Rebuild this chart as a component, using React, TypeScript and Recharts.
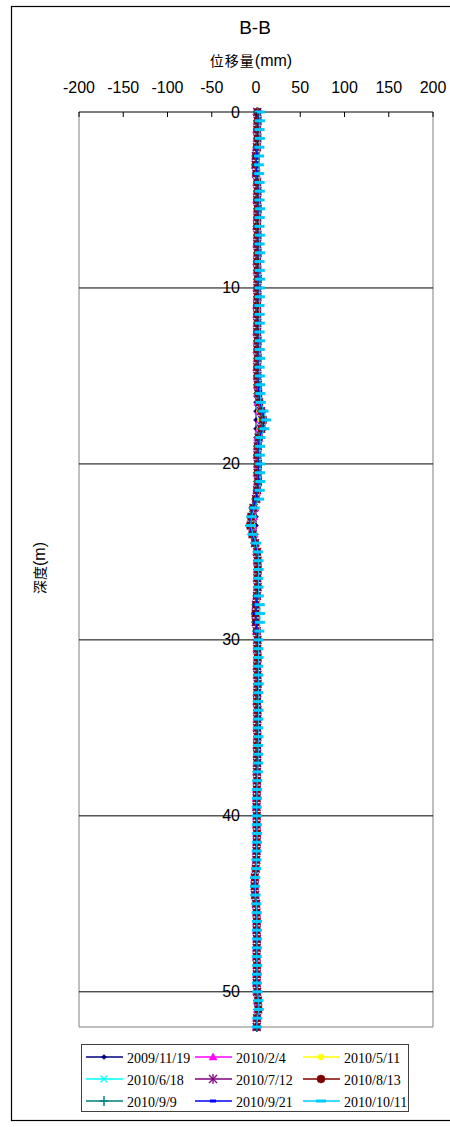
import React from 'react';
import { ScatterChart, Scatter, XAxis, YAxis, ReferenceLine, ReferenceDot } from 'recharts';

// ---------- data ----------
const depths = [
  0, 0.5, 1, 1.5, 2, 2.5, 3, 3.5, 4, 4.5, 5, 5.5, 6, 6.5, 7, 7.5, 8, 8.5, 9, 9.5,
  10, 10.5, 11, 11.5, 12, 12.5, 13, 13.5, 14, 14.5, 15, 15.5, 16, 16.5, 17, 17.5, 18, 18.5, 19, 19.5,
  20, 20.5, 21, 21.5, 22, 22.5, 23, 23.5, 24, 24.5, 25, 25.5, 26, 26.5, 27, 27.5, 28, 28.5, 29, 29.5,
  30, 30.5, 31, 31.5, 32, 32.5, 33, 33.5, 34, 34.5, 35, 35.5, 36, 36.5, 37, 37.5, 38, 38.5, 39, 39.5,
  40, 40.5, 41, 41.5, 42, 42.5, 43, 43.5, 44, 44.5, 45, 45.5, 46, 46.5, 47, 47.5, 48, 48.5, 49, 49.5,
  50, 50.5, 51, 51.5, 52,
];

const xTicks = [-200, -150, -100, -50, 0, 50, 100, 150, 200];
const depthTicks = [0, 10, 20, 30, 40, 50];
const gridDepths = [10, 20, 30, 40, 50];

const seriesNames = [
  '2009/11/19', '2010/2/4', '2010/5/11',
  '2010/6/18', '2010/7/12', '2010/8/13',
  '2010/9/9', '2010/9/21', '2010/10/11',
];
const seriesColors = [
  '#000080', '#FF00FF', '#FFFF00',
  '#00FFFF', '#800080', '#800000',
  '#008080', '#0000FF', '#00CCFF',
];
const seriesMarkers = [
  'diamond', 'triangle', 'dot',
  'cross', 'star', 'circle',
  'plus', 'dashShort', 'dashLong',
];

const s1 = [
  0, 0, 0, 0, 0, 0, 0, 0, 0, 0, 0, 0, 0, 0, 0,
  0, 0, 0, 0, 0, 0, 0, 0, 0, 0, 0, 0, 0, 0, 0,
  0, 0, 0, 0, 0, 0, 0, 0, 0, 0, 0, 0, 0, 0, 0,
  0, 0, 0, 0, 0, 0, 0, 0, 0, 0, 0, 0, 0, 0, 0,
  0, 0, 0, 0, 0, 0, 0, 0, 0, 0, 0, 0, 0, 0, 0,
  0, 0, 0, 0, 0, 0, 0, 0, 0, 0, 0, 0, 0, 0, 0,
  0, 0, 0, 0, 0, 0, 0, 0, 0, 0, 0, 0, 0, 0, 0,
];
const s2 = [
  0.8, 1.0, 0.6, 0.9, 0.3, -0.5, -0.8, -0.2, 0.7, 0.9, 0.6, 1.1, 0.8, 0.5, 1.0, 0.7, 1.1, 0.6, 0.9, 1.2, 0.8, 1.0, 0.5, 0.7,
  0.9, 0.6, 1.0, 0.8, 1.1, 0.7, 0.9, 1.2, 1.4,
  2.0, 3.2, 4.2, 3.4, 1.8,
  1.2, 0.9, 1.3, 1.0, 1.4, 0.8, 0.3,
  -1.2, -2.6, -3.2, -2.0, -0.4,
  0.6, 1.0, 1.2, 0.9, 1.1, 0.6, -0.2, -0.6, -0.3, 0.4, 1.0, 0.8, 1.1, 0.7, 0.9, 1.2, 0.8, 0.6, 1.0, 0.9, 0.7, 1.0, 0.6, 0.8, 0.7, 0.5,
  0.6, 0.4, 0.3, 0.2, 0.5, 0.3, 0.6, 0.4, 0.2, 0.1, -0.2, -0.9, -1.1, -0.6, 0.0, 0.3, 0.5, 0.4, 0.6, 0.5, 0.3, 0.6, 0.5, 0.4, 0.7, 1.2, 1.4, 0.6, 0.4,
];
const s3 = [
  1.0, 1.3, 0.8, 1.1, 0.5, -0.3, -0.6, 0.0, 0.9, 1.2, 0.8, 1.4, 1.0, 0.7, 1.2, 0.9, 1.3, 0.8, 1.1, 1.5, 1.0, 1.2, 0.7, 0.9,
  1.1, 0.8, 1.3, 1.0, 1.4, 0.9, 1.1, 1.5, 1.8,
  2.6, 4.0, 5.2, 4.2, 2.2,
  1.5, 1.1, 1.6, 1.3, 1.7, 1.0, 0.2,
  -1.8, -3.4, -4.2, -2.6, -0.6,
  0.8, 1.3, 1.5, 1.1, 1.4, 0.8, -0.1, -0.5, -0.2, 0.6, 1.3, 1.0, 1.4, 0.9, 1.2, 1.5, 1.0, 0.8, 1.3, 1.1, 0.9, 1.2, 0.8, 1.0, 0.9, 0.7,
  0.8, 0.6, 0.4, 0.3, 0.6, 0.4, 0.8, 0.5, 0.3, 0.1, -0.3, -1.1, -1.3, -0.8, 0.0, 0.4, 0.6, 0.5, 0.8, 0.6, 0.4, 0.8, 0.6, 0.5, 0.9, 1.5, 1.8, 0.8, 0.5,
];
const s4 = [
  1.3, 1.6, 1.1, 1.4, 0.8, -0.2, -0.5, 0.2, 1.2, 1.5, 1.1, 1.7, 1.3, 1.0, 1.5, 1.2, 1.6, 1.1, 1.4, 1.8, 1.3, 1.5, 1.0, 1.2,
  1.4, 1.1, 1.6, 1.3, 1.7, 1.2, 1.4, 1.8, 2.2,
  3.0, 4.8, 6.3, 5.0, 2.6,
  1.8, 1.4, 1.9, 1.6, 2.0, 1.2, 0.2,
  -2.3, -4.2, -5.1, -3.2, -0.8,
  1.0, 1.5, 1.7, 1.3, 1.6, 1.0, 0.0, -0.4, -0.1, 0.8, 1.5, 1.2, 1.6, 1.1, 1.4, 1.7, 1.2, 1.0, 1.5, 1.3, 1.1, 1.4, 1.0, 1.2, 1.1, 0.9,
  1.0, 0.8, 0.6, 0.5, 0.8, 0.6, 1.0, 0.7, 0.5, 0.3, -0.2, -1.2, -1.4, -0.9, 0.1, 0.5, 0.8, 0.6, 0.9, 0.7, 0.5, 1.0, 0.8, 0.7, 1.1, 1.9, 2.2, 1.0, 0.7,
];
const s5 = [
  1.5, 1.8, 1.3, 1.6, 1.0, -0.1, -0.4, 0.3, 1.4, 1.7, 1.3, 1.9, 1.5, 1.2, 1.7, 1.4, 1.8, 1.3, 1.6, 2.0, 1.5, 1.7, 1.2, 1.4,
  1.6, 1.3, 1.8, 1.5, 1.9, 1.4, 1.6, 2.0, 2.5,
  3.5, 5.6, 7.2, 5.8, 3.0,
  2.0, 1.6, 2.1, 1.8, 2.2, 1.3, 0.1,
  -2.8, -5.0, -6.0, -3.8, -1.0,
  1.2, 1.7, 1.9, 1.5, 1.8, 1.1, 0.1, -0.4, -0.1, 0.9, 1.7, 1.4, 1.8, 1.3, 1.6, 1.9, 1.4, 1.2, 1.7, 1.5, 1.3, 1.6, 1.2, 1.4, 1.3, 1.1,
  1.2, 1.0, 0.8, 0.6, 0.9, 0.7, 1.1, 0.8, 0.6, 0.4, -0.2, -1.3, -1.5, -1.0, 0.1, 0.6, 0.9, 0.7, 1.0, 0.8, 0.6, 1.1, 0.9, 0.8, 1.3, 2.2, 2.5, 1.2, 0.8,
];
const s6 = [
  1.7, 2.0, 1.5, 1.8, 1.2, 0.0, -0.3, 0.4, 1.6, 1.9, 1.5, 2.1, 1.7, 1.4, 1.9, 1.6, 2.0, 1.5, 1.8, 2.2, 1.7, 1.9, 1.4, 1.6,
  1.8, 1.5, 2.0, 1.7, 2.1, 1.6, 1.8, 2.2, 2.8,
  3.9, 6.3, 8.1, 6.5, 3.4,
  2.2, 1.8, 2.3, 2.0, 2.4, 1.4, 0.0,
  -3.2, -5.7, -6.8, -4.3, -1.2,
  1.3, 1.9, 2.1, 1.7, 2.0, 1.2, 0.1, -0.5, -0.1, 1.0, 1.9, 1.6, 2.0, 1.5, 1.8, 2.1, 1.6, 1.4, 1.9, 1.7, 1.5, 1.8, 1.4, 1.6, 1.5, 1.2,
  1.3, 1.1, 0.9, 0.7, 1.0, 0.8, 1.2, 0.9, 0.7, 0.4, -0.3, -1.4, -1.6, -1.1, 0.1, 0.7, 1.0, 0.8, 1.1, 0.9, 0.7, 1.2, 1.0, 0.9, 1.4, 2.4, 2.7, 1.3, 0.9,
];
const s7 = [
  1.8, 2.1, 1.6, 1.9, 1.3, 0.1, -0.2, 0.5, 1.7, 2.0, 1.6, 2.2, 1.8, 1.5, 2.0, 1.7, 2.1, 1.6, 1.9, 2.3, 1.8, 2.0, 1.5, 1.7,
  1.9, 1.6, 2.1, 1.8, 2.2, 1.7, 1.9, 2.3, 2.9,
  4.1, 6.6, 8.5, 6.8, 3.6,
  2.3, 1.9, 2.4, 2.1, 2.5, 1.5, 0.0,
  -3.3, -5.9, -7.0, -4.5, -1.3,
  1.4, 2.0, 2.2, 1.8, 2.1, 1.3, 0.2, -0.4, 0.0, 1.1, 2.0, 1.7, 2.1, 1.6, 1.9, 2.2, 1.7, 1.5, 2.0, 1.8, 1.6, 1.9, 1.5, 1.7, 1.6, 1.3,
  1.4, 1.2, 1.0, 0.8, 1.1, 0.9, 1.3, 1.0, 0.8, 0.5, -0.2, -1.4, -1.7, -1.1, 0.2, 0.8, 1.1, 0.9, 1.2, 1.0, 0.8, 1.3, 1.1, 1.0, 1.5, 2.5, 2.8, 1.4, 1.0,
];
const s8 = [
  2.0, 2.3, 1.8, 2.1, 1.5, 0.3, 0.0, 0.7, 1.9, 2.2, 1.8, 2.4, 2.0, 1.7, 2.2, 1.9, 2.3, 1.8, 2.1, 2.5, 2.0, 2.2, 1.7, 1.9,
  2.1, 1.8, 2.3, 2.0, 2.4, 1.9, 2.1, 2.5, 3.2,
  4.4, 7.2, 9.3, 7.4, 3.9,
  2.5, 2.1, 2.6, 2.3, 2.7, 1.6, 0.0,
  -3.5, -6.2, -7.3, -4.7, -1.3,
  1.5, 2.1, 2.3, 1.9, 2.2, 1.4, 0.3, -0.3, 0.1, 1.2, 2.1, 1.8, 2.2, 1.7, 2.0, 2.3, 1.8, 1.6, 2.1, 1.9, 1.7, 2.0, 1.6, 1.8, 1.7, 1.4,
  1.5, 1.3, 1.1, 0.9, 1.2, 1.0, 1.4, 1.1, 0.9, 0.6, -0.1, -1.3, -1.6, -1.0, 0.3, 0.9, 1.2, 1.0, 1.3, 1.1, 0.9, 1.4, 1.2, 1.1, 1.6, 2.6, 2.9, 1.5, 1.1,
];
const s9 = [
  4.2, 4.5, 4.0, 4.4, 3.8, 3.5, 3.2, 3.6, 4.1, 4.3, 4.0, 4.6, 4.2, 3.9, 4.4, 4.1, 4.5, 4.0, 4.3, 4.7, 4.2, 4.4, 3.9, 4.1,
  4.3, 4.0, 4.5, 4.2, 4.6, 4.1, 4.4, 4.8, 5.0,
  5.5, 8.5, 11.5, 9.5, 5.0,
  4.6, 4.3, 4.8, 4.5, 4.9, 4.2, 3.5,
  -1.5, -5.0, -6.0, -3.5, 0.2,
  2.2, 2.8, 3.0, 2.6, 2.9, 3.2, 4.2, 4.6, 4.4, 3.8, 3.0, 2.7, 2.9, 2.5, 2.8, 3.1, 2.6, 2.4, 2.9, 2.7, 2.5, 2.8, 2.3, 2.6, 2.4, 2.1,
  1.5, 1.2, 1.0, 0.8, 1.1, 0.9, 1.3, 1.0, 0.7, 0.5, 0.2, -0.8, -1.0, -0.5, 0.4, 0.8, 1.1, 0.9, 1.2, 1.0, 0.8, 1.3, 1.1, 1.0, 1.6, 2.8, 3.2, 1.5, 1.0,
];

const seriesValues = [s1, s2, s3, s4, s5, s6, s7, s8, s9];

// ---------- styling ----------
const SANS = "'Liberation Sans', Arial, Helvetica, sans-serif";
const SERIF = "'Liberation Serif', 'Times New Roman', serif";
const CJK = "'Noto Sans CJK TC', 'Noto Sans CJK SC', sans-serif";

type MarkerProps = { type: string; cx: number; cy: number; color: string };

function Marker({ type, cx, cy, color }: MarkerProps) {
  switch (type) {
    case 'diamond':
      return (
        <polygon
          points={`${cx},${cy - 2.5} ${cx + 2.5},${cy} ${cx},${cy + 2.5} ${cx - 2.5},${cy}`}
          fill={color}
          stroke={color}
          strokeWidth={0.5}
        />
      );
    case 'triangle':
      return (
        <polygon
          points={`${cx},${cy - 4} ${cx + 4},${cy + 3} ${cx - 4},${cy + 3}`}
          fill={color}
          stroke={color}
          strokeWidth={0.5}
        />
      );
    case 'dot':
      return <circle cx={cx} cy={cy} r={3} fill={color} stroke={color} strokeWidth={0.5} />;
    case 'cross':
      return (
        <g stroke={color} strokeWidth={1.3}>
          <line x1={cx - 3.5} y1={cy - 3.5} x2={cx + 3.5} y2={cy + 3.5} />
          <line x1={cx - 3.5} y1={cy + 3.5} x2={cx + 3.5} y2={cy - 3.5} />
        </g>
      );
    case 'star':
      return (
        <g stroke={color} strokeWidth={1.3}>
          <line x1={cx - 4} y1={cy - 4} x2={cx + 4} y2={cy + 4} />
          <line x1={cx - 4} y1={cy + 4} x2={cx + 4} y2={cy - 4} />
          <line x1={cx} y1={cy - 5} x2={cx} y2={cy + 5} />
        </g>
      );
    case 'circle':
      return <circle cx={cx} cy={cy} r={4} fill={color} stroke={color} strokeWidth={0.5} />;
    case 'plus':
      return (
        <g stroke={color} strokeWidth={1.5}>
          <line x1={cx - 4.5} y1={cy} x2={cx + 4.5} y2={cy} />
          <line x1={cx} y1={cy - 5} x2={cx} y2={cy + 5} />
        </g>
      );
    case 'dashShort':
      return <rect x={cx - 3} y={cy - 1.5} width={6} height={3} fill={color} />;
    case 'dashLong':
      return <rect x={cx - 5} y={cy - 1.5} width={10} height={3} fill={color} />;
    default:
      return null;
  }
}

function XTick(props: any) {
  const { x, y, payload } = props;
  return (
    <g>
      <line x1={x} x2={x} y1={y} y2={y + 5} stroke="#000" strokeWidth={1} />
      <text
        x={x}
        y={y - 25}
        textAnchor="middle"
        dominantBaseline="central"
        fontSize={16}
        fontFamily={SANS}
        fill="#000"
      >
        {payload.value}
      </text>
    </g>
  );
}

const W = 450;
const H = 1127;

export default function App() {
  const seriesData = seriesValues.map((vals) => depths.map((d, i) => ({ x: vals[i], y: d })));

  const legendCols = [86, 195, 303];
  const legendRows = [1057, 1079, 1101];

  return (
    <div style={{ position: 'absolute', left: 0, top: 0, width: W, height: H, background: '#fff' }}>
      <ScatterChart width={W} height={H} margin={{ top: 0, right: 17, bottom: 100, left: 79 }}>
        <XAxis
          type="number"
          dataKey="x"
          orientation="top"
          domain={[-200, 200]}
          ticks={xTicks}
          interval={0}
          height={112}
          tickSize={0}
          tickMargin={0}
          tickLine={false}
          axisLine={{ stroke: '#000', strokeWidth: 1 }}
          tick={<XTick />}
        />
        <YAxis type="number" dataKey="y" domain={[0, 52]} reversed hide />
        <ReferenceLine x={-200} stroke="#808080" strokeWidth={1} ifOverflow="visible" />
        <ReferenceLine x={200} stroke="#808080" strokeWidth={1} ifOverflow="visible" />
        <ReferenceLine y={52} stroke="#808080" strokeWidth={1} ifOverflow="visible" />
        {gridDepths.map((d) => (
          <ReferenceLine key={'g' + d} y={d} stroke="#000" strokeWidth={1} />
        ))}
        {seriesData.map((data, si) => (
          <Scatter
            key={seriesNames[si]}
            name={seriesNames[si]}
            data={data}
            isAnimationActive={false}
            line={{ stroke: seriesColors[si], strokeWidth: 1 }}
            lineType="joint"
            shape={(p: any) => (
              <Marker type={seriesMarkers[si]} cx={p.cx} cy={p.cy} color={seriesColors[si]} />
            )}
          />
        ))}
        {depthTicks.map((d) => (
          <ReferenceDot
            key={'t' + d}
            x={0}
            y={d}
            r={0}
            ifOverflow="visible"
            shape={(p: any) => (
              <text
                x={p.cx - 16}
                y={p.cy}
                textAnchor="end"
                dominantBaseline="central"
                fontSize={16}
                fontFamily={SANS}
                fill="#000"
              >
                {d}
              </text>
            )}
          />
        ))}
      </ScatterChart>

      <svg
        width={W}
        height={H}
        style={{ position: 'absolute', left: 0, top: 0, pointerEvents: 'none' }}
      >
        <rect x={11.5} y={6.5} width={460} height={1114} fill="none" stroke="#000" strokeWidth={1.2} />
        <text x={255} y={27} textAnchor="middle" dominantBaseline="central" fontSize={19} fontFamily={SANS} fill="#000">
          B-B
        </text>
        <text x={251} y={60} textAnchor="middle" dominantBaseline="central" fill="#000">
          <tspan fontFamily={CJK} fontSize={14} letterSpacing={1}>位移量</tspan>
          <tspan fontFamily={SANS} fontSize={16}>(mm)</tspan>
        </text>
        <text
          transform="translate(39,568) rotate(-90)"
          textAnchor="middle"
          dominantBaseline="central"
          fill="#000"
        >
          <tspan fontFamily={CJK} fontSize={14}>深度</tspan>
          <tspan fontFamily={SANS} fontSize={16}>(m)</tspan>
        </text>

        <rect x={81.5} y={1044.5} width={327} height={67} fill="#fff" stroke="#404040" strokeWidth={1} />
        {seriesNames.map((name, i) => {
          const lx = legendCols[i % 3];
          const ly = legendRows[Math.floor(i / 3)];
          return (
            <g key={'lg' + name}>
              <line x1={lx} y1={ly} x2={lx + 37} y2={ly} stroke={seriesColors[i]} strokeWidth={1.5} />
              <Marker type={seriesMarkers[i]} cx={lx + 18} cy={ly} color={seriesColors[i]} />
              <text x={lx + 41} y={ly + 1} dominantBaseline="central" fontSize={14} fontFamily={SERIF} fill="#000">
                {name}
              </text>
            </g>
          );
        })}
      </svg>
    </div>
  );
}
